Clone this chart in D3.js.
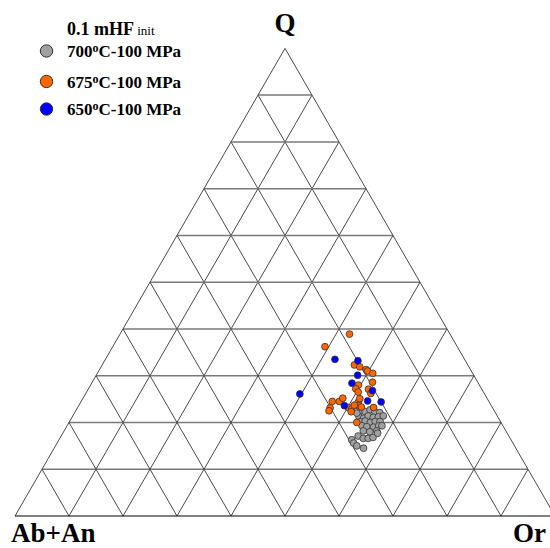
<!DOCTYPE html>
<html><head><meta charset="utf-8">
<script src="https://cdn.jsdelivr.net/npm/d3@7"></script>
<style>body{margin:0;background:#fff}svg{display:block}</style>
</head><body>
<svg id="c" width="550" height="548"></svg>
<script>
// Ternary data: [Q, Or] in percent (Ab+An = 100 - Q - Or)
const gridTicks = [10,20,30,40,50,60,70,80,90];
const axisLabels = {top:"Q", left:"Ab+An", right:"Or"};
const seriesNames = ["700","675","650"];
const seriesColors = ["#a0a0a0","#ff6600","#0000ff"];
const gray700 = [
 [22.5,52.7],[22.3,53.7],[22.7,54.4],[22.3,55.5],[22.1,56.5],[21.2,53.1],[20.9,54.1],[21.4,54.7],
 [21.1,55.8],[21.2,56.7],[21.4,57.5],[20.2,53.8],[20.3,54.7],[20.0,55.8],[20.2,56.6],[20.2,57.5],
 [19.3,54.6],[19.1,55.6],[19.0,56.9],[19.3,57.7],[18.2,55.4],[18.0,56.7],[18.2,57.9],[17.1,55.0],
 [16.6,56.2],[16.6,57.1],[16.8,57.9],[16.3,54.2],[15.6,54.9],[15.0,55.8],[14.5,57.3],[22.0,52.3],
 [19.3,58.3],[17.7,58.3]
];
const orange675 = [
 [38.9,42.5],[36.2,39.3],[32.3,46.7],[31.9,47.9],[31.3,49.4],[31.0,49.8],[30.5,51.0],[28.0,49.6],
 [27.2,49.5],[26.5,50.3],[28.6,51.9],[27.1,51.9],[26.2,52.8],[24.5,46.5],[24.5,47.8],[25.2,48.1],
 [23.1,46.8],[22.5,46.9],[23.2,50.1],[22.9,50.9],[22.3,51.1],[24.4,51.4],[25.1,51.3],[23.6,51.8],
 [23.2,54.8],[23.7,51.0],[23.3,52.5],[20.0,53.3]
];
const blue650 = [
 [33.5,42.5],[33.2,46.9],[30.1,48.4],[28.4,48.2],[26.8,52.8],[26.1,39.7],[24.6,53.0],[24.4,55.6],[23.6,49.2]
];

const svg = d3.select("#c");
const x0 = 15, y0 = 516, sideLen = 540;
const side = d3.scaleLinear().domain([0,100]).range([0,sideLen]);
const h = Math.sqrt(3)/2;
function P(q, or){ return [x0 + side(or + q/2), y0 - side(q)*h]; }

const g = svg.append("g");
gridTicks.forEach(t=>{
  let a=P(t,0), b=P(t,100-t);
  g.append("line").attr("x1",a[0]).attr("y1",a[1]).attr("x2",b[0]).attr("y2",b[1])
   .attr("stroke","#7a7a7a").attr("stroke-width",1.5);
  a=P(0,t); b=P(100-t,t);
  g.append("line").attr("x1",a[0]).attr("y1",a[1]).attr("x2",b[0]).attr("y2",b[1])
   .attr("stroke","#4a4a4a").attr("stroke-width",1);
  a=P(0,100-t); b=P(100-t,0);
  g.append("line").attr("x1",a[0]).attr("y1",a[1]).attr("x2",b[0]).attr("y2",b[1])
   .attr("stroke","#4a4a4a").attr("stroke-width",1);
});
const A=P(0,0), B=P(0,100), C=P(100,0);
g.append("line").attr("x1",A[0]).attr("y1",A[1]).attr("x2",C[0]).attr("y2",C[1]).attr("stroke","#4a4a4a").attr("stroke-width",1);
g.append("line").attr("x1",B[0]).attr("y1",B[1]).attr("x2",C[0]).attr("y2",C[1]).attr("stroke","#4a4a4a").attr("stroke-width",1);
g.append("line").attr("x1",A[0]).attr("y1",A[1]).attr("x2",B[0]).attr("y2",B[1]).attr("stroke","#000").attr("stroke-width",1.2);

[gray700, orange675, blue650].forEach((data,i)=>{
  svg.append("g").selectAll("circle").data(data).join("circle")
    .attr("cx",d=>P(d[0],d[1])[0]).attr("cy",d=>P(d[0],d[1])[1])
    .attr("r",3.4).attr("fill",seriesColors[i]).attr("stroke","#333").attr("stroke-width",0.8);
});

const font = "'Liberation Serif','Times New Roman',serif";
svg.append("text").attr("x",C[0]).attr("y",32).attr("text-anchor","middle")
  .attr("font-family",font).attr("font-weight","bold").attr("font-size",27).text(axisLabels.top);
svg.append("text").attr("x",11).attr("y",542)
  .attr("font-family",font).attr("font-weight","bold").attr("font-size",27).text(axisLabels.left);
svg.append("text").attr("x",513).attr("y",542)
  .attr("font-family",font).attr("font-weight","bold").attr("font-size",27).text(axisLabels.right);

const lt = svg.append("text").attr("x",67).attr("y",35).attr("font-family",font);
lt.append("tspan").attr("font-weight","bold").attr("font-size",18).text("0.1 mHF");
lt.append("tspan").attr("font-size",13).text(" init");
const legY = [51, 81.5, 109];
seriesNames.forEach((n,i)=>{
  svg.append("circle").attr("cx",46.5).attr("cy",legY[i]).attr("r",6.2)
    .attr("fill",seriesColors[i]).attr("stroke","#333").attr("stroke-width",1);
  const t = svg.append("text").attr("x",67).attr("y",legY[i]+6).attr("font-family",font)
    .attr("font-weight","bold").attr("font-size",17);
  t.append("tspan").text(n);
  t.append("tspan").attr("font-size",12).attr("dy",-5).text("o");
  t.append("tspan").attr("dy",5).text("C-100 MPa");
});
</script>
</body></html>
